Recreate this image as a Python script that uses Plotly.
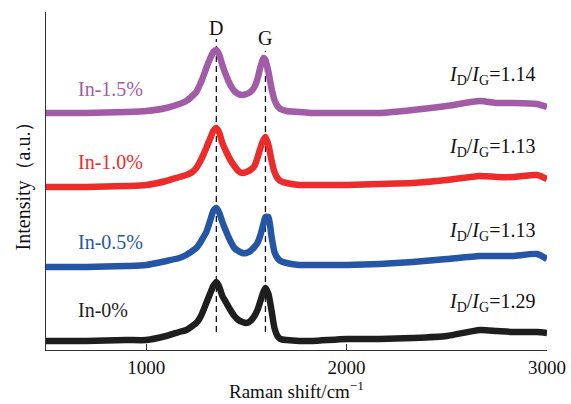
import plotly.graph_objects as go

# Raman shift (cm^-1)
raman_shift = [500, 700, 900, 1000, 1100, 1165, 1200, 1230, 1250, 1265, 1280, 1300, 1320, 1335,
               1350, 1365, 1380, 1400, 1420, 1440, 1460, 1480, 1500, 1520, 1540, 1555, 1570,
               1585, 1595, 1610, 1625, 1640, 1655, 1670, 1700, 1765, 1830, 2000, 2165, 2330,
               2500, 2665, 2750, 2830, 2950, 3000]

# Offset intensities (a.u.)
in_15 = [237, 237, 238, 239, 242, 246, 249, 254, 258, 264, 271, 282, 292, 298, 300, 295, 285, 274,
         265, 259, 256, 255, 256, 258, 263, 271, 283, 292, 290, 278, 262, 250, 244, 241, 239, 238,
         237, 237, 237, 240, 244, 249, 247, 247, 246, 243]
in_10 = [163, 163, 164, 165, 169, 173, 175, 178, 182, 187, 193, 202, 212, 219, 222, 217, 207, 198,
         190, 184, 179, 177, 178, 180, 184, 192, 202, 210, 213, 205, 190, 178, 172, 169, 167, 165,
         165, 165, 166, 167, 170, 174, 173, 173, 175, 171]
in_05 = [83, 83, 84, 85, 89, 92, 95, 99, 102, 106, 111, 118, 130, 139, 142, 137, 128, 118, 109, 102,
         99, 97, 97, 99, 103, 107, 115, 126, 133, 133, 114, 98, 92, 89, 87, 85, 85, 85, 86, 88, 91,
         94, 94, 94, 96, 91]
in_00 = [9, 9, 10, 10, 14, 18, 20, 24, 27, 31, 37, 47, 57, 64, 68, 63, 54, 47, 40, 34, 30, 28, 27,
         29, 34, 40, 49, 58, 62, 56, 40, 22, 14, 11, 10, 9, 9, 11, 11, 12, 14, 20, 19, 18, 18, 17]

series_names = ["In-1.5%", "In-1.0%", "In-0.5%", "In-0%"]
series_values = [in_15, in_10, in_05, in_00]
series_colors = ["#A25BA6", "#ED2B2B", "#2456A5", "#1E1E1E"]
ratio_labels = ["1.14", "1.13", "1.13", "1.29"]
label_y = [261, 188, 108, 40]
ratio_y = [275, 203, 119, 48]

peak_names = ["D", "G"]
peak_pos = [1350, 1595]
peak_label_y = [322, 312]
peak_line_top = [311, 299]

FONT = "Liberation Serif, Times New Roman, serif"

fig = go.Figure()

for pos, top in zip(peak_pos, peak_line_top):
    fig.add_trace(go.Scatter(x=[pos, pos], y=[18, top], mode="lines",
                             line=dict(color="#111", width=1.3, dash="6px,4px"),
                             hoverinfo="skip", showlegend=False))

for name, vals, col in zip(series_names, series_values, series_colors):
    fig.add_trace(go.Scatter(x=raman_shift, y=vals, mode="lines", name=name,
                             line=dict(color=col, width=6.5, shape="spline", smoothing=0.6),
                             showlegend=False))

for name, col, y in zip(series_names, series_colors, label_y):
    fig.add_annotation(x=652, y=y, xref="x", yref="y", text=name, showarrow=False,
                       xanchor="left", yanchor="middle",
                       font=dict(family=FONT, size=20, color=col))

for r, y in zip(ratio_labels, ratio_y):
    fig.add_annotation(x=2952, y=y, xref="x", yref="y",
                       text="<i>I</i><sub>D</sub>/<i>I</i><sub>G</sub>=" + r,
                       showarrow=False, xanchor="right", yanchor="middle",
                       font=dict(family=FONT, size=20, color="#111"))

for n, p, y in zip(peak_names, peak_pos, peak_label_y):
    fig.add_annotation(x=p, y=y, xref="x", yref="y", text=n, showarrow=False,
                       xanchor="center", yanchor="middle",
                       font=dict(family=FONT, size=20, color="#111"))

fig.update_layout(
    width=571, height=404,
    margin=dict(l=46, r=24, t=12, b=54, autoexpand=False),
    paper_bgcolor="white", plot_bgcolor="white",
    font=dict(family=FONT, size=19, color="#111"),
)
fig.update_xaxes(range=[500, 3000], showgrid=False, zeroline=False, automargin=False,
                 showline=True, linecolor="#333", linewidth=1.2,
                 tickvals=[1000, 2000, 3000], ticks="inside", ticklen=6,
                 tickcolor="#333", tickfont=dict(size=19),
                 title=dict(text="Raman shift/cm<sup>−1</sup>", font=dict(size=19), standoff=6))
fig.update_yaxes(range=[0, 338], showgrid=False, zeroline=False, automargin=False,
                 showline=True, linecolor="#333", linewidth=1.2,
                 tickvals=[338], ticks="inside", ticklen=6, tickcolor="#333",
                 showticklabels=False,
                 title=dict(text="Intensity（a.u.）", font=dict(size=20), standoff=8))

fig.write_html("out.html", config={"displayModeBar": False},
               post_script="document.body.style.margin='0';")
